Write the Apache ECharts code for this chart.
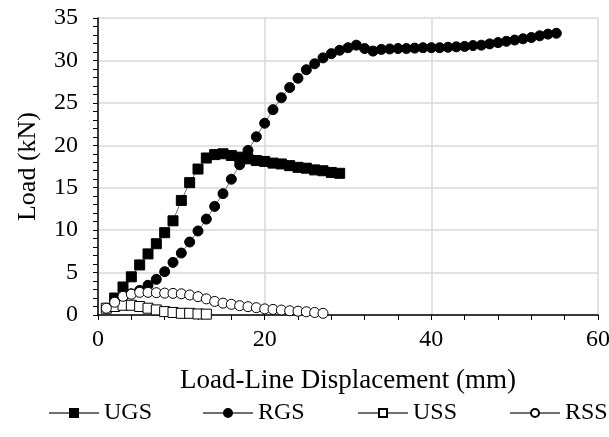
<!DOCTYPE html>
<html>
<head>
<meta charset="utf-8">
<script src="https://cdn.jsdelivr.net/npm/echarts@6/dist/echarts.min.js"></script>
<style>
  html, body { margin: 0; padding: 0; background: #fff; }
  #chart { width: 609px; height: 437px; }
</style>
</head>
<body>
<div id="chart"></div>
<script>
var myChart = echarts.init(document.getElementById("chart"));

// Load-Line Displacement (mm), Load (kN)
const ugsX = [2, 3, 4, 5, 6, 7, 8, 9, 10, 11, 12, 13, 14, 15, 16, 17, 18, 19, 20, 21, 22, 23, 24, 25, 26, 27, 28, 29];
const ugsY = [2.0, 3.3, 4.5, 5.9, 7.2, 8.4, 9.7, 11.1, 13.5, 15.6, 17.2, 18.5, 18.9, 19.0, 18.8, 18.6, 18.4, 18.2, 18.1, 17.9, 17.8, 17.6, 17.4, 17.3, 17.1, 17.0, 16.8, 16.7];

const rgsX = [2, 3, 4, 5, 6, 7, 8, 9, 10, 11, 12, 13, 14, 15, 16, 17, 18, 19, 20, 21, 22, 23, 24, 25, 26, 27, 28, 29, 30, 31, 32, 33, 34, 35, 36, 37, 38, 39, 40, 41, 42, 43, 44, 45, 46, 47, 48, 49, 50, 51, 52, 53, 54, 55];
const rgsY = [1.6, 2.2, 2.5, 2.9, 3.5, 4.2, 5.1, 6.2, 7.3, 8.6, 9.9, 11.3, 12.8, 14.3, 16.0, 17.7, 19.4, 21.0, 22.6, 24.2, 25.6, 26.8, 27.9, 28.9, 29.6, 30.3, 30.8, 31.2, 31.5, 31.8, 31.4, 31.1, 31.3, 31.35, 31.4, 31.4, 31.45, 31.5, 31.5, 31.5, 31.55, 31.6, 31.65, 31.75, 31.8, 31.95, 32.1, 32.25, 32.4, 32.55, 32.7, 32.9, 33.1, 33.2];

const ussX = [1, 2, 3, 4, 5, 6, 7, 8, 9, 10, 11, 12, 13];
const ussY = [0.8, 1.0, 1.15, 1.15, 1.0, 0.8, 0.6, 0.4, 0.3, 0.2, 0.2, 0.12, 0.1];

const rssX = [1, 2, 3, 4, 5, 6, 7, 8, 9, 10, 11, 12, 13, 14, 15, 16, 17, 18, 19, 20, 21, 22, 23, 24, 25, 26, 27];
const rssY = [0.8, 1.5, 2.2, 2.45, 2.67, 2.67, 2.63, 2.58, 2.55, 2.5, 2.36, 2.16, 1.9, 1.6, 1.4, 1.26, 1.1, 0.98, 0.86, 0.72, 0.66, 0.58, 0.5, 0.45, 0.38, 0.3, 0.2];

const xTicks = [0, 20, 40, 60];
const yTicks = [0, 5, 10, 15, 20, 25, 30, 35];

const seriesNames = ["UGS", "RGS", "USS", "RSS"];
const legendLeft = [48, 202, 357, 509];

function pairs(xs, ys) {
  return xs.map((x, i) => [x, ys[i]]);
}

const font = "Liberation Serif";

function makeSeries(name, xs, ys, symbol, size, fill) {
  return {
    name: name,
    type: "line",
    data: pairs(xs, ys),
    symbol: symbol,
    symbolSize: size,
    showAllSymbol: true,
    lineStyle: { color: "#707070", width: 1 },
    itemStyle: { color: fill, borderColor: "#000", borderWidth: 1 },
    emphasis: { disabled: true },
    animation: false,
  };
}

// one legend per item so each sits where it does in the original
const legends = seriesNames.map((n, i) => ({
  bottom: 12,
  left: legendLeft[i],
  padding: 0,
  itemWidth: 50,
  itemHeight: 10,
  textStyle: { fontFamily: font, fontSize: 24, color: "#000" },
  data: [n],
}));

const option = {
  backgroundColor: "#fff",
  animation: false,
  grid: { left: 98, right: 11, top: 18, bottom: 122, outerBoundsMode: "none" },
  xAxis: {
    type: "value",
    min: xTicks[0],
    max: xTicks[xTicks.length - 1],
    interval: 20,
    name: "Load-Line Displacement (mm)",
    nameLocation: "middle",
    nameGap: 52,
    nameTextStyle: { fontFamily: font, fontSize: 27, color: "#000" },
    axisLine: { lineStyle: { color: "#000", width: 1.5 } },
    axisTick: { show: true, length: 5, lineStyle: { color: "#000" } },
    minorTick: { show: true, splitNumber: 5, length: 5, lineStyle: { color: "#000" } },
    axisLabel: { fontFamily: font, fontSize: 24, color: "#000", margin: 13 },
    splitLine: { show: true, lineStyle: { color: "#d9d9d9", width: 1.5 } },
  },
  yAxis: {
    type: "value",
    min: yTicks[0],
    max: yTicks[yTicks.length - 1],
    interval: 5,
    name: "Load (kN)",
    nameLocation: "middle",
    nameGap: 57,
    nameTextStyle: { fontFamily: font, fontSize: 26, color: "#000" },
    axisLine: { show: true, lineStyle: { color: "#000", width: 1.5 } },
    axisTick: { show: true, length: 5, lineStyle: { color: "#000" } },
    minorTick: { show: true, splitNumber: 5, length: 5, lineStyle: { color: "#000" } },
    axisLabel: { fontFamily: font, fontSize: 24, color: "#000", margin: 20 },
    splitLine: { show: true, lineStyle: { color: "#d9d9d9", width: 1.5 } },
  },
  legend: legends,
  series: [
    makeSeries("UGS", ugsX, ugsY, "rect", 10, "#000"),
    makeSeries("RGS", rgsX, rgsY, "circle", 10, "#000"),
    makeSeries("USS", ussX, ussY, "rect", 10, "#fff"),
    makeSeries("RSS", rssX, rssY, "circle", 10, "#fff"),
  ],
};

myChart.setOption(option);
</script>
</body>
</html>
